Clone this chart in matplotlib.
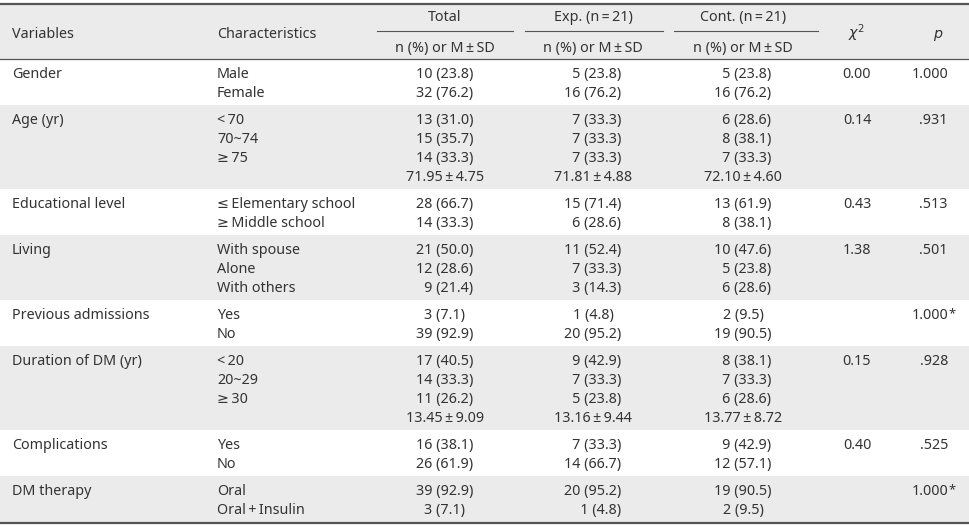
import matplotlib.pyplot as plt
from matplotlib.patches import Rectangle

plt.rcParams['font.family'] = ['Noto Sans', 'DejaVu Sans']

FSP = "\u2007"  # figure space used for padding, as in the source table
TS = "\u2009"   # thin space around signs

variables = ["Gender", "Age (yr)", "Educational level", "Living", "Previous admissions",
             "Duration of DM (yr)", "Complications", "DM therapy"]
characteristics = [
    ["Male", "Female"],
    ["<" + TS + "70", "70~74", "≥" + TS + "75", ""],
    ["≤" + TS + "Elementary school", "≥" + TS + "Middle school"],
    ["With spouse", "Alone", "With others"],
    ["Yes", "No"],
    ["<" + TS + "20", "20~29", "≥" + TS + "30", ""],
    ["Yes", "No"],
    ["Oral", "Oral" + TS + "+" + TS + "Insulin"],
]
PM = TS + "±" + TS
total = [
    ["10 (23.8)", "32 (76.2)"],
    ["13 (31.0)", "15 (35.7)", "14 (33.3)", "71.95" + PM + "4.75"],
    ["28 (66.7)", "14 (33.3)"],
    ["21 (50.0)", "12 (28.6)", FSP + "9 (21.4)"],
    ["3 (7.1)", "39 (92.9)"],
    ["17 (40.5)", "14 (33.3)", "11 (26.2)", "13.45" + PM + "9.09"],
    ["16 (38.1)", "26 (61.9)"],
    ["39 (92.9)", "3 (7.1)"],
]
exp_group = [
    [FSP + "5 (23.8)", "16 (76.2)"],
    [FSP + "7 (33.3)", FSP + "7 (33.3)", FSP + "7 (33.3)", "71.81" + PM + "4.88"],
    ["15 (71.4)", FSP + "6 (28.6)"],
    ["11 (52.4)", FSP + "7 (33.3)", FSP + "3 (14.3)"],
    ["1 (4.8)", "20 (95.2)"],
    [FSP + "9 (42.9)", FSP + "7 (33.3)", FSP + "5 (23.8)", "13.16" + PM + "9.44"],
    [FSP + "7 (33.3)", "14 (66.7)"],
    ["20 (95.2)", FSP + FSP + "1 (4.8)"],
]
cont_group = [
    [FSP + "5 (23.8)", "16 (76.2)"],
    [FSP + "6 (28.6)", FSP + "8 (38.1)", FSP + "7 (33.3)", "72.10" + PM + "4.60"],
    ["13 (61.9)", FSP + "8 (38.1)"],
    ["10 (47.6)", FSP + "5 (23.8)", FSP + "6 (28.6)"],
    ["2 (9.5)", "19 (90.5)"],
    [FSP + "8 (38.1)", FSP + "7 (33.3)", FSP + "6 (28.6)", "13.77" + PM + "8.72"],
    [FSP + "9 (42.9)", "12 (57.1)"],
    ["19 (90.5)", "2 (9.5)"],
]
chi_sq = ["0.00", "0.14", "0.43", "1.38", "", "0.15", "0.40", ""]
p_vals = ["1.000", ".931", ".513", ".501", "1.000*", ".928", ".525", "1.000*"]

W, H = 970, 528
TXT = "#333333"
GRAY = "#ebebeb"
LINE = "#555555"
FS = 10.3
BL = 5  # baseline offset below the visual centre of a line, px

fig = plt.figure(figsize=(W / 100, H / 100), dpi=100)
ax = fig.add_axes([0, 0, 1, 1])
ax.set_xlim(0, W)
ax.set_ylim(H, 0)
ax.axis("off")


def put(x, y, s, ha="left"):
    ax.text(x, y + BL, s, fontsize=FS, color=TXT, ha=ha, va="baseline")


# group column centres and header underline spans
groups = [("Total", 377, 513, 445),
          ("Exp. (n" + TS + "=" + TS + "21)", 525, 663, 593),
          ("Cont. (n" + TS + "=" + TS + "21)", 674, 818, 743)]

# header
ax.add_patch(Rectangle((0, 4), W, 55, color=GRAY, lw=0))
ax.plot([0, W], [4, 4], color=LINE, lw=1.6)
ax.plot([0, W], [59, 59], color=LINE, lw=0.9)
put(12, 33, "Variables")
put(217, 33, "Characteristics")
for label, x0, x1, xc in groups:
    put(xc, 16, label, ha="center")
    ax.plot([x0, x1], [31, 31], color=LINE, lw=0.8)
    put(xc, 47, "n (%) or M" + PM + "SD", ha="center")
put(857, 33, r"$\chi^2$", ha="center")
put(938, 33, r"$p$", ha="center")

cols = [total, exp_group, cont_group]
y = 59
for i, var in enumerate(variables):
    n = len(characteristics[i])
    band = 8 + 19 * n
    if i % 2 == 1:
        ax.add_patch(Rectangle((0, y), W, band, color=GRAY, lw=0))
    y0 = y + 14
    put(12, y0, var)
    for j in range(n):
        yy = y0 + 19 * j
        put(217, yy, characteristics[i][j])
        for col, g in zip(cols, groups):
            put(g[3], yy, col[i][j], ha="center")
    put(857, y0, chi_sq[i], ha="center")
    pv = p_vals[i]
    put(948, y0, pv.rstrip("*"), ha="right")
    if pv.endswith("*"):
        ax.text(948, y0 + BL - 2, "*", fontsize=FS - 1, color=TXT, ha="left", va="baseline")
    y += band

ax.plot([0, W], [y + 1, y + 1], color=LINE, lw=1.6)

fig.savefig("out.png", dpi=100, facecolor="white")
